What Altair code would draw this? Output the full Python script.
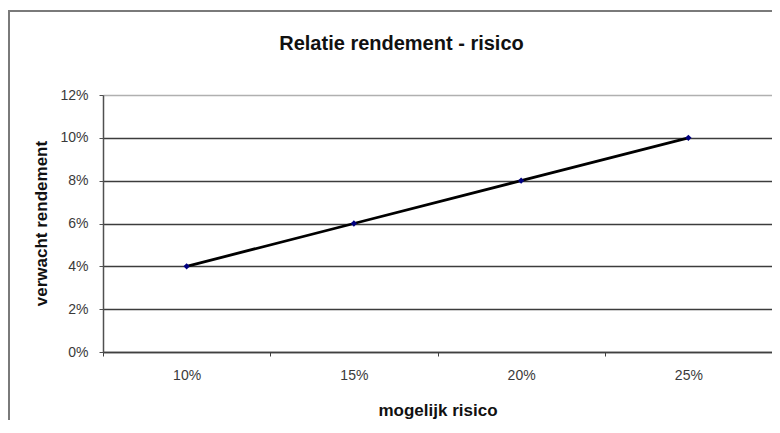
import altair as alt
import pandas as pd

risico = ["10%", "15%", "20%", "25%"]
rendement = [0.04, 0.06, 0.08, 0.10]
y_ticks = [0, 0.02, 0.04, 0.06, 0.08, 0.10, 0.12]

df = pd.DataFrame({"risico": risico, "rendement": rendement})

FONT = "Liberation Sans"

x_enc = alt.X(
    "risico:N",
    sort=risico,
    scale=alt.Scale(paddingInner=0, paddingOuter=0),
    axis=alt.Axis(
        title="mogelijk risico",
        tickBand="extent",
        labelAngle=0,
        grid=False,
        domainColor="#404040",
        domainWidth=1.5,
        tickColor="#404040",
        tickSize=4,
        labelPadding=12,
        labelFont=FONT,
        labelFontSize=14,
        labelColor="#3a3a3a",
        titleFont=FONT,
        titleFontSize=17,
        titleFontWeight="bold",
        titleColor="#111111",
        titleY=58,
        titleBaseline="middle",
    ),
)

y_enc = alt.Y(
    "rendement:Q",
    scale=alt.Scale(domain=[0, 0.12], nice=False, zero=True),
    axis=alt.Axis(
        title="verwacht rendement",
        format="%",
        values=y_ticks,
        grid=True,
        gridColor={"condition": {"test": "datum.value >= 0.119", "value": "#b0b0b0"}, "value": "#3c3c3c"},
        gridWidth=1.3,
        domainColor="#505050",
        domainWidth=1.5,
        tickColor="#505050",
        tickSize=4,
        labelPadding=11,
        labelFont=FONT,
        labelFontSize=14,
        labelColor="#3a3a3a",
        titleFont=FONT,
        titleFontSize=17,
        titleFontWeight="bold",
        titleColor="#111111",
        titleX=-62,
        titleY=128,
        titleAngle=270,
        titleBaseline="middle",
        titleAlign="center",
    ),
)

base = alt.Chart(df)

line = base.mark_line(color="black", strokeWidth=2.8).encode(x=x_enc, y=y_enc)
pts = base.mark_point(shape="diamond", filled=True, color="#000080", size=40, opacity=1).encode(x=x_enc, y=y_enc)

frame_left = base.mark_rule(color="#7a7a7a", strokeWidth=2).encode(
    x=alt.value(-94), y=alt.value(-84), y2=alt.value(330)
)
frame_top = base.mark_rule(color="#7a7a7a", strokeWidth=2).encode(
    x=alt.value(-95), x2=alt.value(680), y=alt.value(-84)
)

chart = alt.layer(frame_left, frame_top, line, pts).properties(
    width=669,
    height=257,
    title=alt.TitleParams(
        "Relatie rendement - risico",
        font=FONT,
        fontSize=20,
        fontWeight="bold",
        color="#111111",
        anchor="middle",
        frame="group",
        baseline="bottom",
        dx=-36,
        offset=-64,
    ),
    autosize=alt.AutoSizeParams(type="none"),
    padding={"left": 95, "top": 87, "right": 0, "bottom": 68},
).configure_view(
    stroke="#b0b0b0", strokeWidth=1.3
).configure(background="white")

chart.save("out.html", embed_options={"renderer": "svg", "actions": False})
